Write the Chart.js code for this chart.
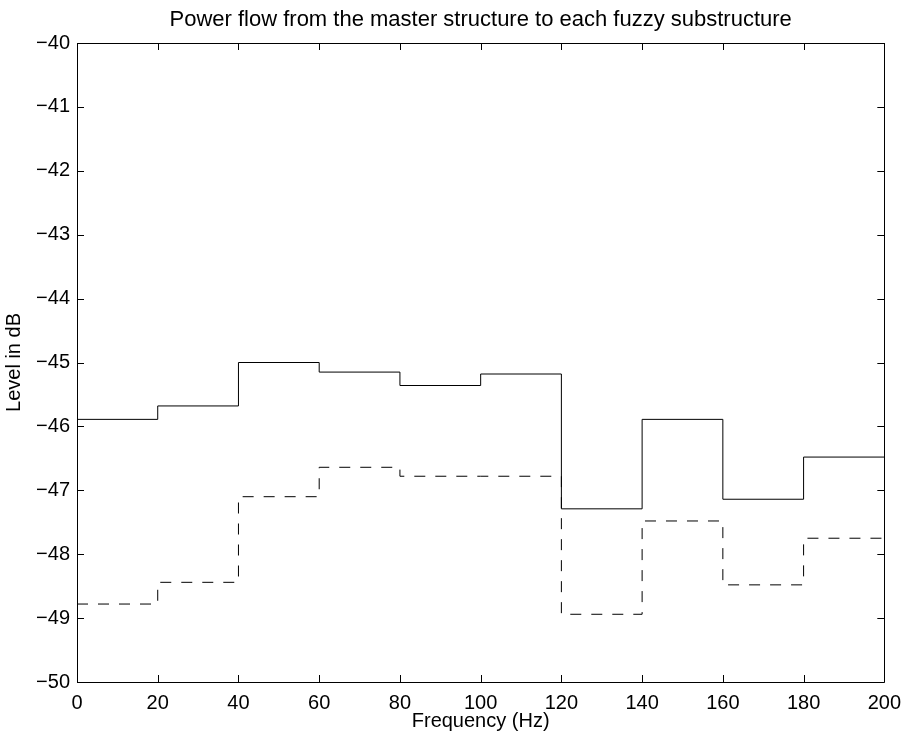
<!DOCTYPE html>
<html>
<head>
<meta charset="utf-8">
<title>Power flow</title>
<script src="https://cdn.jsdelivr.net/npm/chart.js@4.4.1/dist/chart.umd.min.js"></script>
<style>
  html, body { margin: 0; padding: 0; background: #fff; }
  #wrap { width: 910px; height: 743px; }
</style>
</head>
<body>
<div id="wrap"><canvas id="powerChart" width="910" height="743"></canvas></div>
<script>
// band edges in Hz (each level holds from one edge to the next)
const bandEdges = [0, 20, 40, 60, 80, 100, 120, 140, 160, 180, 200];
// solid line
const masterLevels = [-45.89, -45.68, -45.00, -45.15, -45.36, -45.18, -47.29, -45.89, -47.14, -46.48];
// dashed line
const fuzzyLevels = [-48.78, -48.44, -47.10, -46.64, -46.78, -46.78, -48.94, -47.48, -48.48, -47.75];
const yTicks = [-50, -49, -48, -47, -46, -45, -44, -43, -42, -41, -40];

const chartTitle = 'Power flow from the master structure to each fuzzy substructure';
const FONT = '"Liberation Sans", Arial, Helvetica, sans-serif';
const TICK_LEN = 7;

function stairs(levels) {
    // last edge repeats the last level so the final step is drawn to 200 Hz
    return bandEdges.map((x, i) => ({ x: x, y: levels[Math.min(i, levels.length - 1)] }));
}

function minusSign(v) {
    return String(v).replace('-', '\u2212');
}

// matlab style box with ticks pointing inwards, title centred over the axes
const boxPlugin = {
    id: 'boxTicks',
    afterDraw(chart) {
        const { ctx, chartArea: a, scales } = chart;
        ctx.save();
        ctx.strokeStyle = '#000';
        ctx.lineWidth = 1;
        ctx.beginPath();
        ctx.rect(Math.round(a.left) + 0.5, Math.round(a.top) + 0.5,
                 Math.round(a.right - a.left), Math.round(a.bottom - a.top));
        scales.x.ticks.forEach(t => {
            const px = Math.round(scales.x.getPixelForValue(t.value)) + 0.5;
            ctx.moveTo(px, a.bottom);
            ctx.lineTo(px, a.bottom - TICK_LEN);
            ctx.moveTo(px, a.top);
            ctx.lineTo(px, a.top + TICK_LEN);
        });
        scales.y.ticks.forEach(t => {
            const py = Math.round(scales.y.getPixelForValue(t.value)) + 0.5;
            ctx.moveTo(a.left, py);
            ctx.lineTo(a.left + TICK_LEN, py);
            ctx.moveTo(a.right, py);
            ctx.lineTo(a.right - TICK_LEN, py);
        });
        ctx.stroke();

        ctx.fillStyle = '#000';
        ctx.font = '22px ' + FONT;
        ctx.textAlign = 'center';
        ctx.textBaseline = 'alphabetic';
        ctx.fillText(chartTitle, (a.left + a.right) / 2, 26);
        ctx.restore();
    }
};

Chart.defaults.font.family = FONT;
Chart.defaults.color = '#000';

new Chart(document.getElementById('powerChart'), {
    type: 'line',
    data: {
        datasets: [
            {
                label: 'master',
                data: stairs(masterLevels),
                stepped: 'before',
                borderColor: '#000',
                borderWidth: 1,
                pointRadius: 0,
                fill: false
            },
            {
                label: 'fuzzy',
                data: stairs(fuzzyLevels),
                stepped: 'before',
                borderColor: '#000',
                borderWidth: 1,
                borderDash: [11, 10],
                pointRadius: 0,
                fill: false
            }
        ]
    },
    options: {
        responsive: false,
        animation: false,
        layout: { padding: { left: 0, right: 24, top: 43, bottom: 0 } },
        plugins: {
            legend: { display: false },
            tooltip: { enabled: false },
            title: { display: false }
        },
        scales: {
            x: {
                type: 'linear',
                min: 0,
                max: 200,
                grid: { display: false, drawTicks: false },
                border: { display: false },
                ticks: { stepSize: 20, padding: 9, font: { size: 20 }, maxRotation: 0 },
                title: { display: true, text: 'Frequency (Hz)', font: { size: 20 }, padding: { top: 10, bottom: 10 } },
                afterFit(scale) { scale.height = 61; }
            },
            y: {
                min: -50,
                max: -40,
                grid: { display: false, drawTicks: false },
                border: { display: false },
                afterBuildTicks(scale) { scale.ticks = yTicks.map(v => ({ value: v })); },
                ticks: { padding: 7, font: { size: 20 }, callback: v => minusSign(v) },
                title: { display: true, text: 'Level in dB', font: { size: 20 }, padding: { top: 2, bottom: 2 } },
                afterFit(scale) { scale.width = 77; }
            }
        }
    },
    plugins: [boxPlugin]
});
</script>
</body>
</html>
